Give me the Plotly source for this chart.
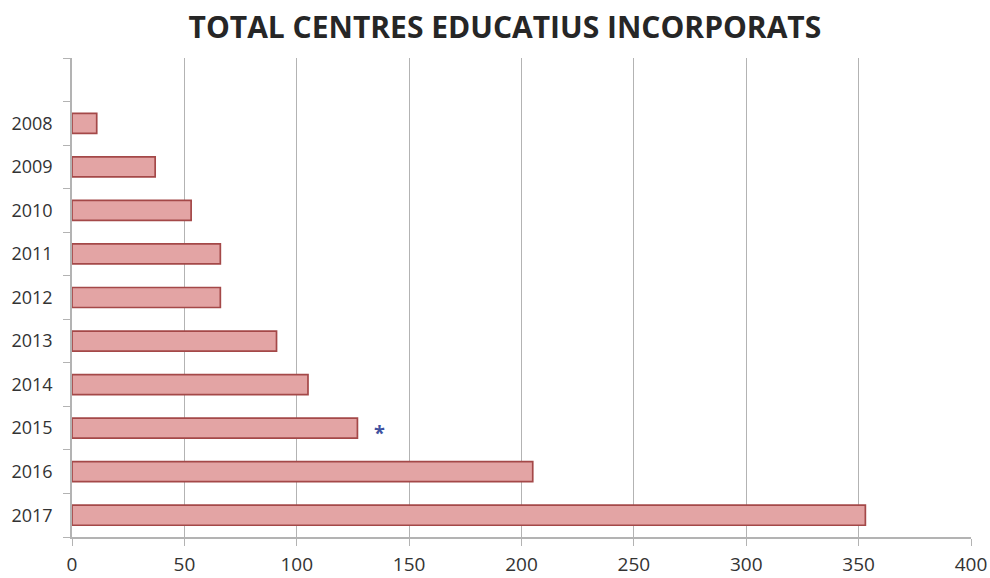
import plotly.graph_objects as go

years = ["2008", "2009", "2010", "2011", "2012", "2013", "2014", "2015", "2016", "2017"]
values = [11, 37, 53, 66, 66, 91, 105, 127, 205, 353]
x_ticks = [0, 50, 100, 150, 200, 250, 300, 350, 400]

n = len(years)
# position: 2017 at 0, 2008 at 9; one empty slot above at 10
ypos = [n - 1 - i for i in range(n)]

fig = go.Figure()
fig.add_trace(go.Bar(
    x=values, y=ypos, orientation="h",
    marker=dict(color="#E3A4A4", line=dict(color="#A44848", width=1.7)),
    width=0.46, hoverinfo="skip",
))

fig.add_annotation(x=137, y=ypos[years.index("2015")], text="<b>*</b>", showarrow=False,
                   font=dict(family="Open Sans", size=20, color="#3F51A0"), yshift=-4)

fig.update_layout(
    width=990, height=578,
    margin=dict(l=72, r=19, t=58, b=41),
    paper_bgcolor="white", plot_bgcolor="white",
    showlegend=False,
    title=dict(text="<b>TOTAL CENTRES EDUCATIUS INCORPORATS</b>", x=0.51, xanchor="center",
               y=0.953, yanchor="middle", automargin=False,
               font=dict(family="Open Sans", size=30, color="#262626")),
    xaxis=dict(range=[0, 400], tickvals=x_ticks, showgrid=True, gridcolor="#B3B3B3", gridwidth=1,
               zeroline=False, showline=True, linecolor="#B3B3B3", linewidth=1.5,
               ticks="outside", ticklen=7, tickcolor="#B3B3B3", automargin=False,
               ticklabelstandoff=2,
               tickfont=dict(family="Open Sans", size=19, color="#333333")),
    yaxis=dict(range=[-0.5, n + 0.5], tickvals=ypos, ticktext=years, showgrid=False,
               zeroline=False, showline=True, linecolor="#B3B3B3", linewidth=1.5,
               ticks="", ticklen=0, automargin=False, ticklabelstandoff=14,
               minor=dict(tick0=0.5, dtick=1, ticks="outside", ticklen=7, tickcolor="#B3B3B3", showgrid=False),
               tickfont=dict(family="Open Sans", size=18, color="#333333")),
)

fig.write_html("out.html", config={"displayModeBar": False},
               post_script="document.body.style.margin='0';")
